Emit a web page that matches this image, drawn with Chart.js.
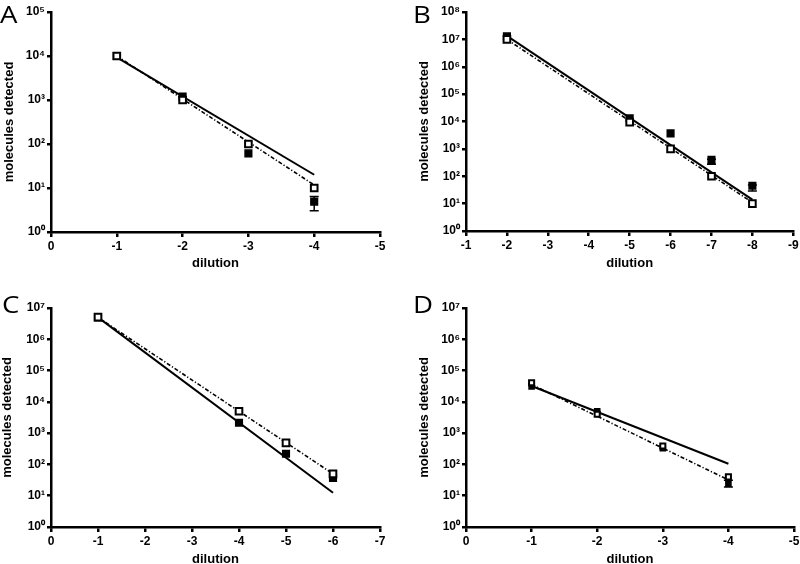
<!DOCTYPE html>
<html><head><meta charset="utf-8">
<script src="https://cdn.jsdelivr.net/npm/chart.js@4.4.1/dist/chart.umd.min.js"></script>
<style>
html,body{margin:0;padding:0;background:#fff;width:800px;height:564px;overflow:hidden;}
.panel{position:absolute;width:400px;height:282px;}
.panel canvas{position:absolute;left:0;top:0;}
.letter{position:absolute;font-family:"Open Sans",sans-serif;font-size:24px;line-height:24px;color:#000;transform:scaleX(1.15);transform-origin:left top;}
</style></head><body>
<div class="panel" style="left:0;top:0"><canvas id="cA" width="400" height="282"></canvas></div>
<div class="panel" style="left:400px;top:0"><canvas id="cB" width="400" height="282"></canvas></div>
<div class="panel" style="left:0;top:282px"><canvas id="cC" width="400" height="282"></canvas></div>
<div class="panel" style="left:400px;top:282px"><canvas id="cD" width="400" height="282"></canvas></div>
<div class="letter" style="left:0;top:2px">A</div>
<div class="letter" style="left:413px;top:2px">B</div>
<div class="letter" style="left:2px;top:292px">C</div>
<div class="letter" style="left:413px;top:292px">D</div>
<script>
// ---- Panel A ----
const dilutionA = [-1, -2, -3, -4];
const openA = [10000, 1000, 100, 10];
const filledA = [10000, 1190, 61, 4.9];
const filledLowA = [null, null, null, 3.05];
const filledHighA = [null, null, null, 6.4];
const fitDilutionA = [-1, -4];
const fitSolidA = [9300, 20];
const fitDashA = [10000, 11.7];
const xTicksA = [0, -1, -2, -3, -4, -5];
const yDecadesA = [0, 1, 2, 3, 4, 5];

// ---- Panel B ----
const dilutionB = [-2, -5, -6, -7, -8];
const openB = [1.0e7, 9500, 1000, 100, 10];
const filledB = [1.28e7, 1.3e4, 3700, 395, 45];
const filledLowB = [null, null, null, 275, 29];
const filledHighB = [null, null, null, 420, 48];
const fitDilutionB = [-2, -8];
const fitSolidB = [1.35e7, 14];
const fitDashB = [1.0e7, 11];
const xTicksB = [-1, -2, -3, -4, -5, -6, -7, -8, -9];
const yDecadesB = [0, 1, 2, 3, 4, 5, 6, 7, 8];

// ---- Panel C ----
const dilutionC = [-1, -4, -5, -6];
const openC = [5.1e6, 5000, 490, 50];
const filledC = [5.0e6, 2150, 220, 37];
const filledLowC = [null, null, null, null];
const filledHighC = [null, null, null, null];
const fitDilutionC = [-1, -6];
const fitSolidC = [5.0e6, 12.5];
const fitDashC = [5.0e6, 50];
const xTicksC = [0, -1, -2, -3, -4, -5, -6, -7];
const yDecadesC = [0, 1, 2, 3, 4, 5, 6, 7];

// ---- Panel D ----
const dilutionD = [-1, -2, -3, -4];
const openD = [41000, 4000, 390, 40];
const filledD = [31000, 5000, 333, 24];
const filledLowD = [null, null, null, 19];
const filledHighD = [null, null, null, 31];
const fitDilutionD = [-1, -4];
const fitSolidD = [32000, 105];
const fitDashD = [36000, 32];
const xTicksD = [0, -1, -2, -3, -4, -5];
const yDecadesD = [0, 1, 2, 3, 4, 5, 6, 7];

const SUP = ['\u2070','\u00b9','\u00b2','\u00b3','\u2074','\u2075','\u2076','\u2077','\u2078','\u2079'];
const tickFont = {family: 'Liberation Sans, Arial, sans-serif', size: 12, weight: 'bold'};
const titleFont = {family: 'Liberation Sans, Arial, sans-serif', size: 13, weight: 'bold'};

const errPlugin = {
  id: 'errbars',
  beforeDatasetsDraw(chart, args, opts) {
    const ctx = chart.ctx, xs = chart.scales.x, ys = chart.scales.y;
    ctx.save();
    ctx.strokeStyle = '#000';
    ctx.lineWidth = 1.5;
    opts.x.forEach((xv, i) => {
      const lo = opts.lo[i], hi = opts.hi[i];
      if (lo == null || hi == null) return;
      const px = xs.getPixelForValue(xv);
      const y1 = ys.getPixelForValue(lo), y2 = ys.getPixelForValue(hi);
      ctx.beginPath();
      ctx.moveTo(px, y1); ctx.lineTo(px, y2);
      ctx.moveTo(px - 4.5, y1); ctx.lineTo(px + 4.5, y1);
      ctx.moveTo(px - 4.5, y2); ctx.lineTo(px + 4.5, y2);
      ctx.stroke();
    });
    ctx.restore();
  }
};

function pts(xs, ys) { return xs.map((x, i) => ({x: x, y: ys[i]})); }

function makeChart(id, p) {
  const xmin = Math.min(...p.xTicks), xmax = Math.max(...p.xTicks);
  const ymax = Math.max(...p.yDec);
  new Chart(document.getElementById(id), {
    type: 'scatter',
    data: {
      datasets: [
        {data: pts(p.dil, p.open), order: 0, showLine: false, pointStyle: 'rect',
         pointRadius: p.r, pointBackgroundColor: '#fff', pointBorderColor: '#000', pointBorderWidth: 2},
        {data: pts(p.dil, p.filled), order: 1, showLine: false, pointStyle: 'rect',
         pointRadius: p.r, pointBackgroundColor: '#000', pointBorderColor: '#000', pointBorderWidth: 1.5},
        {data: pts(p.fitX, p.solid), order: 2, showLine: true, pointRadius: 0,
         borderColor: '#000', borderWidth: 2},
        {data: pts(p.fitX, p.dash), order: 3, showLine: true, pointRadius: 0,
         borderColor: '#000', borderWidth: 1.6, borderDash: [4, 2, 1.2, 2]}
      ]
    },
    options: {
      responsive: false, animation: false,
      layout: {padding: p.pad},
      plugins: {legend: {display: false}, tooltip: {enabled: false},
        errbars: {x: p.dil, lo: p.lo, hi: p.hi}},
      scales: {
        x: {type: 'linear', min: xmin, max: xmax, reverse: true,
          afterBuildTicks: s => { s.ticks = p.xTicks.map(v => ({value: v})); },
          afterFit: s => { s.height = p.xh; s.paddingLeft = 0; s.paddingRight = 0; },
          ticks: {callback: v => String(v), font: tickFont, color: '#000', padding: 2, autoSkip: false, maxRotation: 0},
          grid: {drawOnChartArea: false, drawTicks: true, tickLength: 5, color: '#000', lineWidth: 2.5},
          border: {display: true, color: '#000', width: 2.5},
          title: {display: true, text: 'dilution', font: titleFont, color: '#000', padding: {top: 0, bottom: p.xtb}}
        },
        y: {type: 'logarithmic', min: 1, max: Math.pow(10, ymax),
          afterBuildTicks: s => { s.ticks = p.yDec.map(d => ({value: Math.pow(10, d)})); },
          afterFit: s => { s.width = 51; s.paddingTop = 0; s.paddingBottom = 0; },
          ticks: {callback: v => '10' + SUP[Math.round(Math.log10(v))], font: tickFont, color: '#000', padding: 2, autoSkip: false},
          grid: {drawOnChartArea: false, drawTicks: true, tickLength: 4, color: '#000', lineWidth: 2.5},
          border: {display: true, color: '#000', width: 2.5},
          title: {display: true, text: 'molecules detected', font: titleFont, color: '#000', padding: {top: p.ytp, bottom: 0}}
        }
      }
    },
    plugins: [errPlugin]
  });
}

makeChart('cA', {dil: dilutionA, open: openA, filled: filledA, lo: filledLowA, hi: filledHighA,
  fitX: fitDilutionA, solid: fitSolidA, dash: fitDashA, xTicks: xTicksA, yDec: yDecadesA,
  r: 4.7, pad: {left: 0, right: 20, top: 12, bottom: 0}, xh: 50, xtb: 11, ytp: 2});
makeChart('cB', {dil: dilutionB, open: openB, filled: filledB, lo: filledLowB, hi: filledHighB,
  fitX: fitDilutionB, solid: fitSolidB, dash: fitDashB, xTicks: xTicksB, yDec: yDecadesB,
  r: 4.7, pad: {left: 15, right: 6, top: 12, bottom: 0}, xh: 51, xtb: 11, ytp: 2});
makeChart('cC', {dil: dilutionC, open: openC, filled: filledC, lo: filledLowC, hi: filledHighC,
  fitX: fitDilutionC, solid: fitSolidC, dash: fitDashC, xTicks: xTicksC, yDec: yDecadesC,
  r: 4.7, pad: {left: 0, right: 20, top: 26, bottom: 0}, xh: 37, xtb: -3, ytp: 0});
makeChart('cD', {dil: dilutionD, open: openD, filled: filledD, lo: filledLowD, hi: filledHighD,
  fitX: fitDilutionD, solid: fitSolidD, dash: fitDashD, xTicks: xTicksD, yDec: yDecadesD,
  r: 3.6, pad: {left: 15, right: 6, top: 26, bottom: 0}, xh: 37, xtb: -3, ytp: 2});
</script>
</body></html>
